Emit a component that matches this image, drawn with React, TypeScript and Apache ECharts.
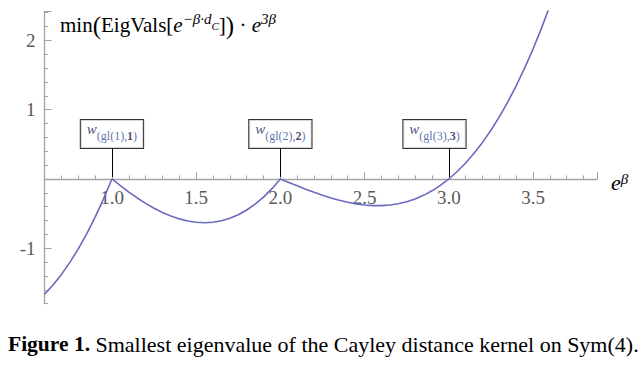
import React, { useEffect, useRef } from "react";
import * as echarts from "echarts";

// e^beta sample positions
const eBeta = [
  0.6, 0.65, 0.7, 0.75, 0.8, 0.85, 0.9, 0.95, 1.0,
  1.05, 1.1, 1.15, 1.2, 1.25, 1.3, 1.35, 1.4, 1.45, 1.5,
  1.55, 1.6, 1.65, 1.7, 1.75, 1.8, 1.85, 1.9, 1.95, 2.0,
  2.05, 2.1, 2.15, 2.2, 2.25, 2.3, 2.35, 2.4, 2.45, 2.5,
  2.55, 2.6, 2.65, 2.7, 2.75, 2.8, 2.85, 2.9, 2.95, 3.0,
  3.05, 3.1, 3.15, 3.2, 3.25, 3.3, 3.35, 3.4, 3.45, 3.5,
  3.55, 3.6,
];
// min(EigVals) * e^{3 beta}
const minEig = [
  -1.664, -1.53, -1.377, -1.203, -1.008, -0.791, -0.551, -0.288, 0,
  -0.097, -0.189, -0.274, -0.352, -0.422, -0.483, -0.535, -0.576, -0.606, -0.625,
  -0.631, -0.624, -0.603, -0.567, -0.516, -0.448, -0.363, -0.261, -0.14, 0,
  -0.05, -0.099, -0.147, -0.192, -0.234, -0.273, -0.307, -0.336, -0.359, -0.375,
  -0.384, -0.384, -0.375, -0.357, -0.328, -0.288, -0.236, -0.171, -0.093, 0,
  0.108, 0.231, 0.371, 0.528, 0.703, 0.897, 1.11, 1.344, 1.599, 1.875,
  2.174, 2.496,
];

const xTickLabels = ["1.0", "1.5", "2.0", "2.5", "3.0", "3.5"];
const yTickLabels = ["-1", "", "1", "2"];

const calloutAt = [1, 2, 3];
const calloutBoxX = [1.0, 2.0, 2.915];
const calloutIndex = [1, 2, 3];
const calloutHeight = 0.447;

const X_MIN = 0.6;
const X_MAX = 3.88;
const Y_MIN = -1.8;
const Y_MAX = 2.42;

const SERIF = "'Liberation Serif', 'Times New Roman', serif";

export default function App() {
  const ref = useRef<HTMLDivElement>(null);

  useEffect(() => {
    if (!ref.current) return;
    const chart = echarts.init(ref.current, undefined, { renderer: "svg" });

    const axisColor = "#a3a3a3";
    const labelColor = "#5a5a5a";

    const option: any = {
      animation: false,
      title: [
        {
          left: 60,
          top: 10,
          padding: 0,
          text:
            "{m|min}{p|(}{m|EigVals[}{i|e}{sup|−β·d}{sub|C}{m|]}{p|)}{m| · }{i|e}{sup|3β}",
          textStyle: {
            fontFamily: SERIF,
            fontWeight: "normal",
            color: "#000",
            rich: {
              m: { fontFamily: SERIF, fontSize: 21, lineHeight: 30, color: "#000" },
              p: { fontFamily: SERIF, fontSize: 25, lineHeight: 30, color: "#000" },
              i: { fontFamily: SERIF, fontSize: 21, lineHeight: 30, fontStyle: "italic", color: "#000" },
              sup: {
                fontFamily: SERIF,
                fontSize: 15,
                fontStyle: "italic",
                verticalAlign: "top",
                padding: [1, 0, 0, 0],
                color: "#000",
              },
              sub: {
                fontFamily: SERIF,
                fontSize: 11,
                fontStyle: "italic",
                verticalAlign: "top",
                padding: [10, 0, 0, 0],
                color: "#000",
              },
            },
          },
        },
        {
          left: 8,
          top: 331,
          padding: 0,
          text: "{b|Figure 1.}{n| Smallest eigenvalue of the Cayley distance kernel on Sym(4).}",
          textStyle: {
            fontFamily: SERIF,
            fontWeight: "normal",
            rich: {
              b: { fontFamily: SERIF, fontSize: 21.5, fontWeight: "bold", lineHeight: 26, color: "#000" },
              n: { fontFamily: SERIF, fontSize: 22, fontWeight: "normal", lineHeight: 26, color: "#000" },
            },
          },
        },
      ],
      grid: [
        { left: 44.6, right: 47, top: 11.3, bottom: 61.3 },
        { left: 112, right: 47, top: 11.3, bottom: 186 },
        { left: 44.6, right: 47, top: 11.3, bottom: 116.7 },
      ],
      xAxis: [
        {
          type: "value",
          gridIndex: 0,
          min: X_MIN,
          max: X_MAX,
          interval: 0.1,
          axisLine: { show: true, onZero: true, lineStyle: { color: axisColor, width: 1.3 } },
          axisTick: { show: true, inside: true, length: 3.5, lineStyle: { color: axisColor, width: 1 } },
          axisLabel: { show: false },
          splitLine: { show: false },
          name: "{e|e}{b|β}",
          nameLocation: "end",
          nameGap: 14,
          nameTextStyle: {
            padding: [8, 0, 0, 0],
            rich: {
              e: { fontFamily: SERIF, fontSize: 22, fontStyle: "italic", lineHeight: 22, color: "#000" },
              b: {
                fontFamily: SERIF,
                fontSize: 15,
                fontStyle: "italic",
                verticalAlign: "top",
                color: "#000",
              },
            },
          },
        },
        {
          type: "value",
          gridIndex: 1,
          min: 1,
          max: X_MAX,
          interval: 0.5,
          position: "bottom",
          axisLine: { show: false },
          axisTick: { show: true, inside: true, length: 7, lineStyle: { color: axisColor, width: 1 } },
          axisLabel: {
            show: true,
            margin: 9,
            color: labelColor,
            fontFamily: SERIF,
            fontSize: 19,
            formatter: (v: number) => {
              const k = (v - 1) / 0.5;
              if (Math.abs(k - Math.round(k)) > 1e-6) return "";
              return xTickLabels[Math.round(k)] ?? "";
            },
          },
          splitLine: { show: false },
        },
        {
          type: "value",
          gridIndex: 2,
          min: X_MIN,
          max: X_MAX,
          show: false,
        },
      ],
      yAxis: [
        {
          type: "value",
          gridIndex: 0,
          min: Y_MIN,
          max: Y_MAX,
          interval: 0.2,
          axisLine: { show: true, onZero: false, lineStyle: { color: axisColor, width: 1.3 } },
          axisTick: { show: true, inside: true, length: 3.5, lineStyle: { color: axisColor, width: 1 } },
          axisLabel: { show: false },
          splitLine: { show: false },
        },
        {
          type: "value",
          gridIndex: 1,
          min: 0,
          max: Y_MAX,
          show: false,
        },
        {
          type: "value",
          gridIndex: 2,
          min: -1,
          max: Y_MAX,
          interval: 1,
          axisLine: { show: false, onZero: false },
          axisTick: { show: true, inside: true, length: 7, lineStyle: { color: axisColor, width: 1 } },
          axisLabel: {
            show: true,
            margin: 9,
            color: labelColor,
            fontFamily: SERIF,
            fontSize: 19,
            formatter: (v: number) => {
              if (Math.abs(v - Math.round(v)) > 1e-6) return "";
              return yTickLabels[Math.round(v) + 1] ?? "";
            },
          },
          splitLine: { show: false },
        },
      ],
      series: [
        {
          type: "line",
          xAxisIndex: 0,
          yAxisIndex: 0,
          data: eBeta.map((x, i) => [x, minEig[i]]),
          showSymbol: false,
          symbol: "none",
          clip: true,
          lineStyle: { color: "#6a6abf", width: 1.6 },
          z: 3,
        },
        {
          type: "scatter",
          xAxisIndex: 0,
          yAxisIndex: 0,
          symbolSize: 0,
          z: 5,
          data: calloutBoxX.map((x, i) => ({
            value: [x, calloutHeight],
            label: {
              formatter: `{w|w}{s|(gl(${calloutIndex[i]}),}{bd|${calloutIndex[i]}}{s|)}`,
            },
          })),
          label: {
            show: true,
            position: "top",
            distance: 0,
            backgroundColor: "#fff",
            borderColor: "#000",
            borderWidth: 1,
            padding: [1, 6, 3, 6],
            rich: {
              w: {
                fontFamily: SERIF,
                fontSize: 15,
                fontStyle: "italic",
                lineHeight: 24,
                verticalAlign: "top",
                color: "#1d2466",
              },
              s: {
                fontFamily: SERIF,
                fontSize: 12,
                lineHeight: 24,
                verticalAlign: "top",
                padding: [9, 0, 0, 0],
                color: "#2f4f9a",
              },
              bd: {
                fontFamily: SERIF,
                fontSize: 12,
                fontWeight: "bold",
                lineHeight: 24,
                verticalAlign: "top",
                padding: [9, 0, 0, 0],
                color: "#1d2050",
              },
            },
          },
          markLine: {
            silent: true,
            symbol: ["none", "none"],
            label: { show: false },
            lineStyle: { color: "#000", width: 1, type: "solid" },
            data: calloutAt.map((x) => [
              { coord: [x, 0.03] },
              { coord: [x, calloutHeight] },
            ]),
          },
        },
      ],
    };

    chart.setOption(option);
    return () => chart.dispose();
  }, []);

  return (
    <div
      ref={ref}
      style={{ position: "absolute", left: 0, top: 0, width: 644, height: 365, background: "#fff" }}
    />
  );
}
